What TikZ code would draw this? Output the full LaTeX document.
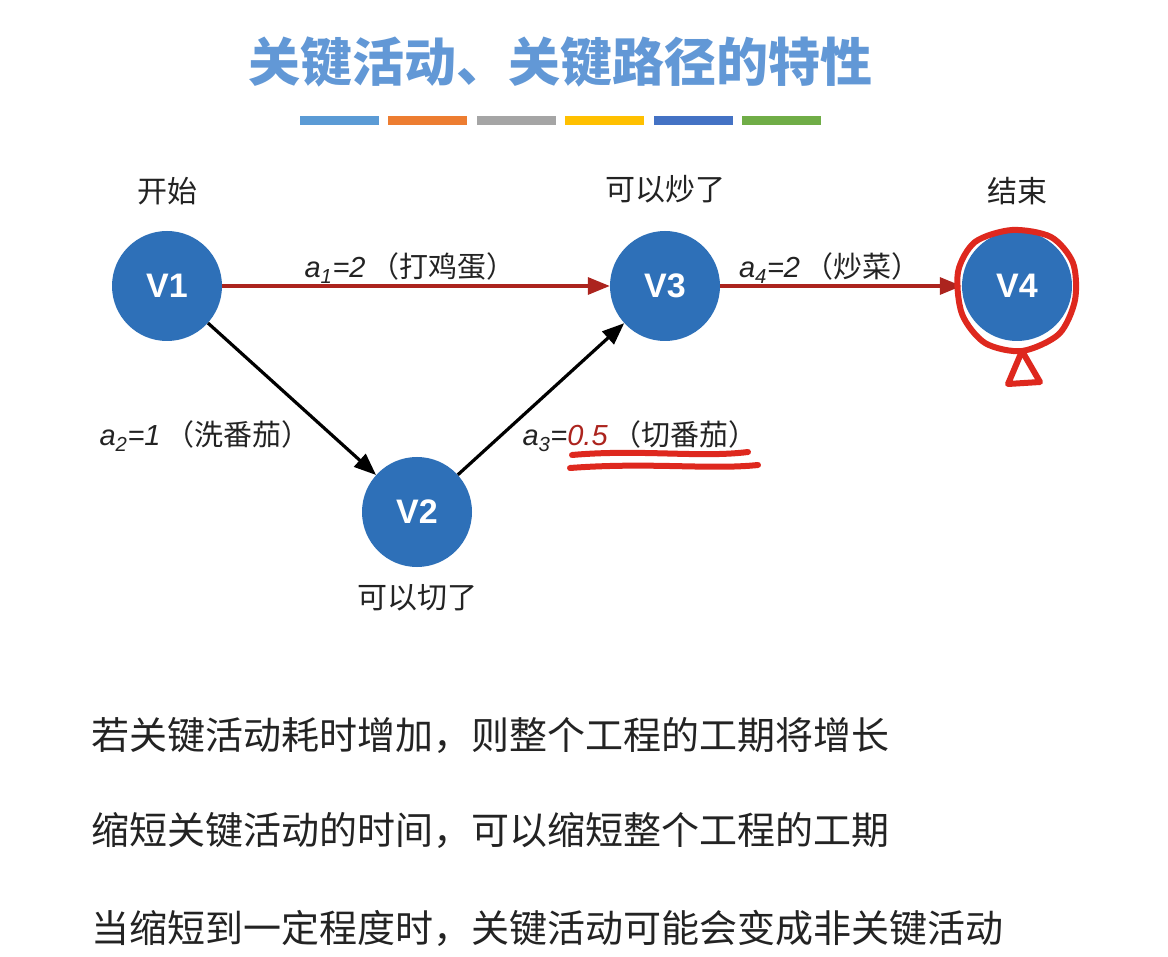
\documentclass[tikz,border=0pt]{standalone}
\usepackage{fontspec}
\setmainfont{Liberation Sans}
\newfontfamily\cjk{Noto Sans CJK SC}
\usepackage{xcolor}
\usetikzlibrary{arrows.meta,positioning,calc}
\definecolor{titleblue}{RGB}{98,152,214}
\definecolor{nodeblue}{RGB}{46,112,184}
\definecolor{critred}{RGB}{172,36,30}
\definecolor{inkred}{RGB}{222,40,30}
\definecolor{textgray}{RGB}{35,35,35}
\definecolor{barA}{RGB}{91,155,213}
\definecolor{barB}{RGB}{237,125,49}
\definecolor{barC}{RGB}{165,165,165}
\definecolor{barD}{RGB}{255,192,0}
\definecolor{barE}{RGB}{68,114,196}
\definecolor{barF}{RGB}{112,173,71}

\begin{document}
\begin{tikzpicture}[x=1pt,y=-1pt,node distance=20pt,
vertex/.style={circle,fill=nodeblue,minimum size=110pt,inner sep=0pt,text=white,font=\fontsize{34}{34}\selectfont\bfseries},
evtag/.style={font=\cjk\fontsize{30}{30}\selectfont,text=textgray},
lbl/.style={font=\fontsize{29}{29}\selectfont,text=textgray},
crit/.style={-{Triangle[length=22pt,width=17pt]},line width=3.2pt,critred},
arr/.style={-{Triangle[length=22pt,width=17pt]},line width=3.2pt,black},
ink/.style={inkred,line width=6pt,line cap=round,line join=round},
note/.style={anchor=west,font=\cjk\fontsize{38}{38}\selectfont,text=textgray}]
\useasboundingbox[fill=white] (0,0) rectangle (1168,957);
% title and colour bars
\node[font=\cjk\fontsize{52}{52}\selectfont\bfseries,text=titleblue] (title) at (560,62) {关键活动、关键路径的特性};
\foreach \c [count=\i] in {barA,barB,barC,barD,barE,barF}
  \fill[\c] (300+\i*88.4-88.4,116) rectangle +(79,9);
% events
\node[vertex] (v1) at (167,286) {V1};
\node[vertex] (v2) at (417,512) {V2};
\node[vertex] (v3) at (665,286) {V3};
\node[vertex] (v4) at (1017,286) {V4};
\node[evtag,above=22pt of v1] (c1) {开始};
\node[evtag,above=24pt of v3] (c3) {可以炒了};
\node[evtag,above=22pt of v4] (c4) {结束};
\node[evtag,below=14pt of v2] (c2) {可以切了};
% activities
\draw[crit] (v1) -- (v3);
\draw[crit] (v3) -- (v4);
\draw[arr] (v1) -- (v2);
\draw[arr] (v2) -- (v3);
\node[lbl] (a1) at (410,268) {\textit{a\textsubscript{1}=2}\,{\cjk（打鸡蛋）}};
\node[lbl] (a4) at (830,268) {\textit{a\textsubscript{4}=2}\,{\cjk（炒菜）}};
\node[lbl] (a2) at (205,436) {\textit{a\textsubscript{2}=1}\,{\cjk（洗番茄）}};
\node[lbl] (a3) at (640,436) {\textit{a\textsubscript{3}=\textcolor{critred}{0.5}}\,{\cjk（切番茄）}};
% hand marks
\draw[ink] plot[smooth cycle] coordinates {(1012,230) (1051,237) (1073,263) (1075,300) (1059,334) (1022,351) (985,343) (962,314) (958,272) (975,242)};
\draw[ink] (1022,351) -- (1040,382) -- (1008,384) -- cycle;
\draw[ink] (572,455) .. controls (640,449) and (700,458) .. (748,452);
\draw[ink] (570,468) .. controls (650,462) and (710,470) .. (758,465);
% notes
\node[note] (n1) at (88,735) {若关键活动耗时增加，则整个工程的工期将增长};
\node[note] (n2) at (88,830) {缩短关键活动的时间，可以缩短整个工程的工期};
\node[note] (n3) at (88,928) {当缩短到一定程度时，关键活动可能会变成非关键活动};
\end{tikzpicture}
\end{document}
